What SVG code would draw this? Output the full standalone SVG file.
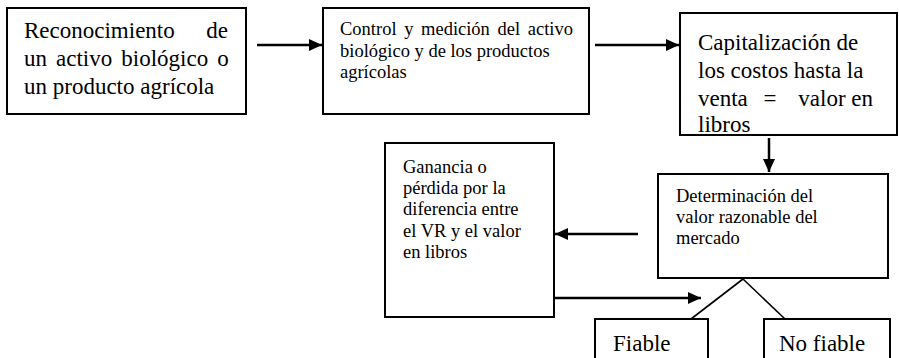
<svg xmlns="http://www.w3.org/2000/svg" width="899" height="358" viewBox="0 0 899 358">
<defs>
<style>
.box{fill:#fff;stroke:#000;stroke-width:2}
.t{font-family:"Liberation Serif","Times New Roman",serif;fill:#000}
.big{font-size:23px}
.small{font-size:18.5px}
.conn{stroke:#000;stroke-width:2.5;fill:none}
.thin{stroke:#000;stroke-width:1.6;fill:none}
</style>
<marker id="ah" markerUnits="userSpaceOnUse" markerWidth="14" markerHeight="12" refX="13" refY="6" orient="auto">
<path d="M0,0 L13,6 L0,12 Z" fill="#000"/>
</marker>
</defs>
<rect width="899" height="358" fill="#fff"/>
<g id="connectors">
<line class="conn" x1="257" y1="45" x2="322" y2="45" marker-end="url(#ah)"/>
<line class="conn" x1="595" y1="45" x2="679" y2="45" marker-end="url(#ah)"/>
<line class="conn" x1="769" y1="138" x2="769" y2="172" marker-end="url(#ah)"/>
<line class="conn" x1="638" y1="234" x2="555" y2="234" marker-end="url(#ah)"/>
<line class="conn" x1="554" y1="298" x2="701" y2="298" marker-end="url(#ah)"/>
<line class="thin" x1="743" y1="279" x2="691" y2="319"/>
<line class="thin" x1="743" y1="279" x2="785" y2="319"/>
</g>
<g id="n1">
<rect class="box" x="7" y="8" width="239" height="106"/>
<text class="t big" x="24" y="38">Reconocimiento</text>
<text class="t big" x="228" y="38" text-anchor="end">de</text>
<text class="t big" x="24" y="66" word-spacing="3.3">un activo biológico o</text>
<text class="t big" x="24" y="94">un producto agrícola</text>
</g>
<g id="n2">
<rect class="box" x="323" y="8" width="266" height="106"/>
<text class="t small" x="340" y="35" word-spacing="3">Control y medición del activo</text>
<text class="t small" x="340" y="57">biológico y de los productos</text>
<text class="t small" x="340" y="78">agrícolas</text>
</g>
<g id="n3">
<rect class="box" x="680" y="13" width="217" height="122"/>
<text class="t big" x="698" y="50">Capitalización de</text>
<text class="t big" x="698" y="78">los costos hasta la</text>
<text class="t big" x="698" y="106">venta</text>
<text class="t big" x="770" y="106" text-anchor="middle">=</text>
<text class="t big" x="873" y="106" text-anchor="end">valor en</text>
<text class="t big" x="698" y="132">libros</text>
</g>
<g id="n4">
<rect class="box" x="658" y="174" width="230" height="104"/>
<text class="t small" x="676" y="202">Determinación del</text>
<text class="t small" x="676" y="223">valor razonable del</text>
<text class="t small" x="676" y="244">mercado</text>
</g>
<g id="n5">
<rect class="box" x="385" y="143" width="169" height="174"/>
<text class="t small" x="403" y="173">Ganancia o</text>
<text class="t small" x="403" y="194">pérdida por la</text>
<text class="t small" x="403" y="215">diferencia entre</text>
<text class="t small" x="403" y="237">el VR y el valor</text>
<text class="t small" x="403" y="258">en libros</text>
</g>
<g id="n6">
<rect class="box" x="595" y="319" width="113" height="60"/>
<text class="t big" x="613" y="351">Fiable</text>
</g>
<g id="n7">
<rect class="box" x="764" y="319" width="126" height="60"/>
<text class="t big" x="779" y="351">No fiable</text>
</g>
</svg>
